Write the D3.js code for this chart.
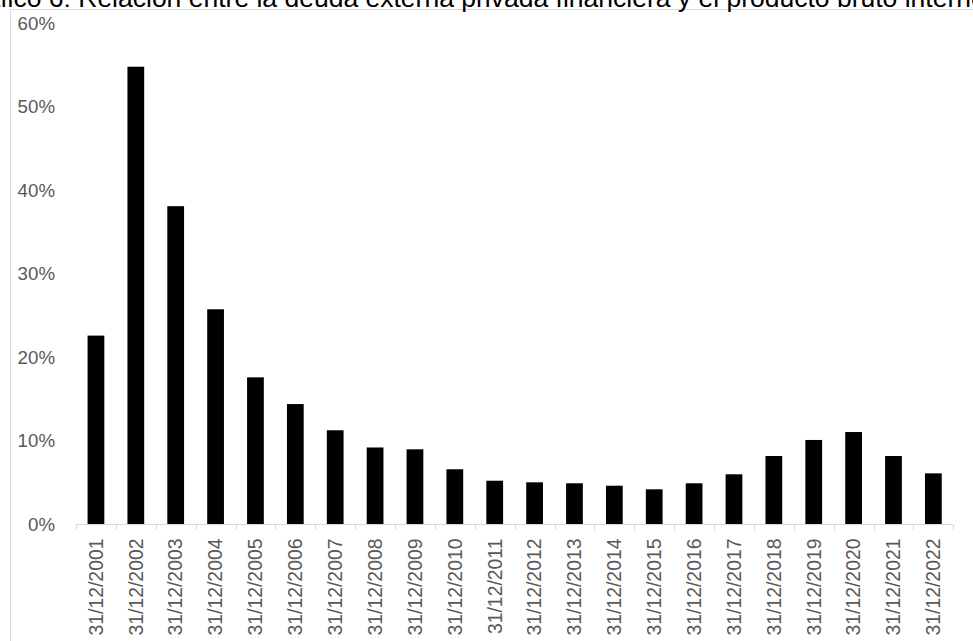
<!DOCTYPE html>
<html>
<head>
<meta charset="utf-8">
<script src="https://cdn.jsdelivr.net/npm/d3@7"></script>
<style>
  html, body { margin: 0; padding: 0; background: #fff; overflow: hidden; }
  svg { display: block; font-family: "Liberation Sans", Arial, sans-serif; }
</style>
</head>
<body>
<svg id="chart" width="973" height="641"></svg>
<script>
// Deuda externa privada financiera como porcentaje del PBI, fin de cada año
const fechas = [
  "31/12/2001", "31/12/2002", "31/12/2003", "31/12/2004", "31/12/2005",
  "31/12/2006", "31/12/2007", "31/12/2008", "31/12/2009", "31/12/2010",
  "31/12/2011", "31/12/2012", "31/12/2013", "31/12/2014", "31/12/2015",
  "31/12/2016", "31/12/2017", "31/12/2018", "31/12/2019", "31/12/2020",
  "31/12/2021", "31/12/2022"
];
const ratioDeudaPbi = [
  0.226, 0.548, 0.381, 0.2575, 0.176,
  0.144, 0.1126, 0.092, 0.0898, 0.0659,
  0.0522, 0.0503, 0.0491, 0.0462, 0.0419,
  0.0491, 0.0599, 0.0818, 0.101, 0.1105,
  0.0818, 0.061
];
const yTicks = [0, 0.1, 0.2, 0.3, 0.4, 0.5, 0.6];
const titulo = "Gráfico 6: Relación entre la deuda externa privada financiera y el producto bruto interno";

const svg = d3.select("#chart");
const labelColor = "#595959";
const lineColor = "#d9d9d9";

// Chart frame
svg.append("rect")
  .attr("x", 10.5).attr("y", 9.5)
  .attr("width", 1000).attr("height", 700)
  .attr("fill", "none")
  .attr("stroke", lineColor)
  .attr("stroke-width", 1);

// Title (wider than the frame, runs past both edges)
svg.append("text")
  .attr("x", -44)
  .attr("y", 6.7)
  .attr("font-size", 26.5)
  .attr("fill", "#000")
  .text(titulo);

const x = d3.scaleBand()
  .domain(fechas)
  .range([76, 953.3])
  .paddingInner(0.58)
  .paddingOuter(0.29);

const y = d3.scaleLinear()
  .domain([0, 0.6])
  .range([524.3, 23.3]);

// Y axis labels (no line)
const yAxis = d3.axisLeft(y)
  .tickValues(yTicks)
  .tickFormat(d3.format(".0%"))
  .tickSize(0)
  .tickPadding(0);
const gy = svg.append("g").attr("transform", "translate(55,0)").call(yAxis);
gy.select(".domain").remove();
gy.selectAll("text")
  .attr("fill", labelColor)
  .attr("font-size", 18.7)
  .attr("font-family", "Liberation Sans, Arial, sans-serif");

// Bars
svg.append("g")
  .selectAll("rect")
  .data(fechas.map((f, i) => ({ f, v: ratioDeudaPbi[i] })))
  .join("rect")
  .attr("x", d => x(d.f))
  .attr("y", d => y(d.v))
  .attr("width", x.bandwidth())
  .attr("height", d => y(0) - y(d.v))
  .attr("fill", "#000");

// X axis line and category boundary ticks
const y0 = Math.round(y(0)) + 0.5;
const step = x.step();
const start = x.range()[0];
const gx = svg.append("g");
gx.append("line")
  .attr("x1", start).attr("x2", x.range()[1])
  .attr("y1", y0).attr("y2", y0)
  .attr("stroke", lineColor);
gx.selectAll("line.tick")
  .data(d3.range(fechas.length + 1))
  .join("line")
  .attr("class", "tick")
  .attr("x1", i => Math.round(start + i * step) + 0.5)
  .attr("x2", i => Math.round(start + i * step) + 0.5)
  .attr("y1", y0).attr("y2", y0 + 6)
  .attr("stroke", lineColor);

// Rotated category labels
const xAxis = d3.axisBottom(x).tickSize(0).tickPadding(0);
const gl = svg.append("g").call(xAxis);
gl.select(".domain").remove();
gl.selectAll(".tick").attr("transform", d => `translate(${x(d) + x.bandwidth() / 2},538.5)`);
gl.selectAll(".tick text")
  .attr("transform", "rotate(-90)")
  .attr("x", 0).attr("y", 0)
  .attr("dy", "0.35em")
  .attr("text-anchor", "end")
  .attr("fill", labelColor)
  .attr("font-size", 19.4)
  .attr("font-family", "Liberation Sans, Arial, sans-serif");
</script>
</body>
</html>
